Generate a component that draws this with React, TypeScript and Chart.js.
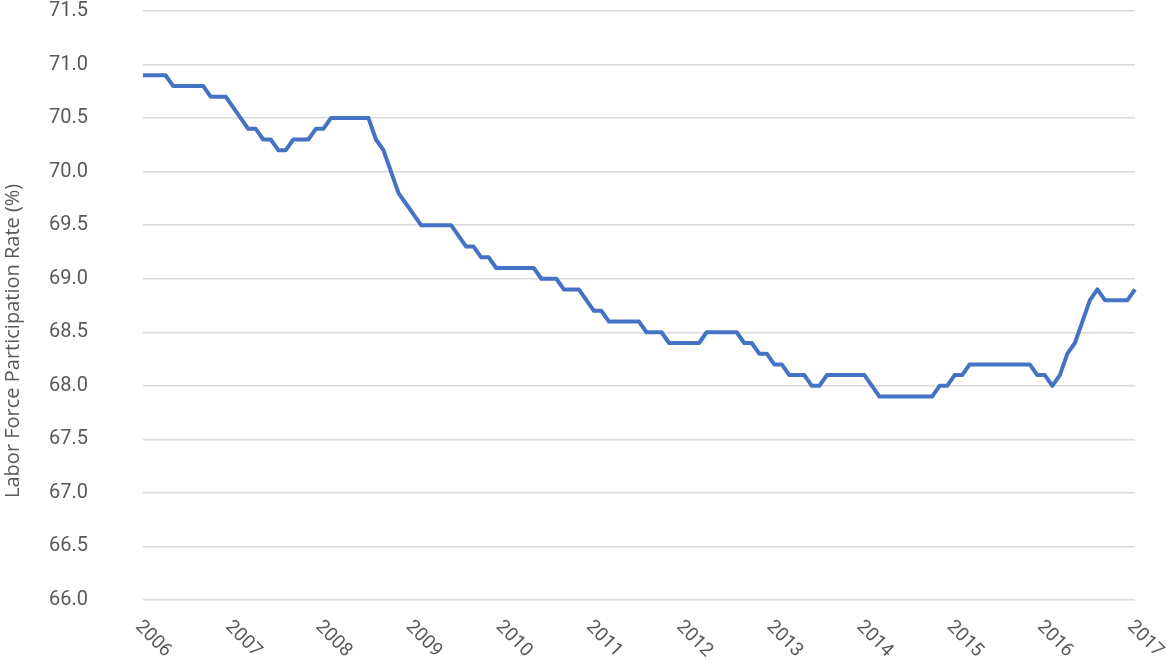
import React, { useEffect, useRef } from "react";
import { Chart, registerables } from "chart.js";

Chart.register(...registerables);

// year tick labels shown under the axis
const yearLabels = [
  "2006", "2007", "2008", "2009", "2010", "2011",
  "2012", "2013", "2014", "2015", "2016", "2017",
];

// one category per month, Jan 2006 .. Jan 2017
const monthLabels: string[] = [];
yearLabels.forEach((year, i) => {
  const months = i === yearLabels.length - 1 ? 1 : 12;
  for (let m = 1; m <= months; m++) {
    monthLabels.push(`${year}-${String(m).padStart(2, "0")}`);
  }
});

// labor force participation rate (%), monthly
const participationRate = [
  70.9, 70.9, 70.9, 70.9, 70.8, 70.8, 70.8, 70.8, 70.8, 70.7, 70.7, 70.7, // 2006
  70.6, 70.5, 70.4, 70.4, 70.3, 70.3, 70.2, 70.2, 70.3, 70.3, 70.3, 70.4, // 2007
  70.4, 70.5, 70.5, 70.5, 70.5, 70.5, 70.5, 70.3, 70.2, 70.0, 69.8, 69.7, // 2008
  69.6, 69.5, 69.5, 69.5, 69.5, 69.5, 69.4, 69.3, 69.3, 69.2, 69.2, 69.1, // 2009
  69.1, 69.1, 69.1, 69.1, 69.1, 69.0, 69.0, 69.0, 68.9, 68.9, 68.9, 68.8, // 2010
  68.7, 68.7, 68.6, 68.6, 68.6, 68.6, 68.6, 68.5, 68.5, 68.5, 68.4, 68.4, // 2011
  68.4, 68.4, 68.4, 68.5, 68.5, 68.5, 68.5, 68.5, 68.4, 68.4, 68.3, 68.3, // 2012
  68.2, 68.2, 68.1, 68.1, 68.1, 68.0, 68.0, 68.1, 68.1, 68.1, 68.1, 68.1, // 2013
  68.1, 68.0, 67.9, 67.9, 67.9, 67.9, 67.9, 67.9, 67.9, 67.9, 68.0, 68.0, // 2014
  68.1, 68.1, 68.2, 68.2, 68.2, 68.2, 68.2, 68.2, 68.2, 68.2, 68.2, 68.1, // 2015
  68.1, 68.0, 68.1, 68.3, 68.4, 68.6, 68.8, 68.9, 68.8, 68.8, 68.8, 68.8, // 2016
  68.9, // 2017
];

const yMin = 66;
const yMax = 71.5;
const yStep = 0.5;

const yTitle = "Labor Force Participation Rate (%)";
const textGray = "#595959";

// year labels rotated 45deg clockwise below the plot, plus the y title
const axisTextPlugin = {
  id: "axisText",
  afterDraw(chart: Chart) {
    const { ctx, chartArea } = chart;
    const x = chart.scales.x;
    ctx.save();
    ctx.font = "19px Roboto";
    ctx.fillStyle = textGray;
    ctx.textAlign = "left";
    ctx.textBaseline = "middle";
    yearLabels.forEach((label) => {
      const idx = monthLabels.indexOf(`${label}-01`);
      const px = x.getPixelForValue(idx);
      ctx.save();
      ctx.translate(px - 5, chartArea.bottom + 24);
      ctx.rotate(Math.PI / 4);
      ctx.fillText(label, 0, 0);
      ctx.restore();
    });

    // title sits a bit below the plot's middle, as in the source
    ctx.font = "20px 'Open Sans'";
    ctx.textAlign = "center";
    ctx.translate(13, chartArea.top + (chartArea.bottom - chartArea.top) * 0.56);
    ctx.rotate(-Math.PI / 2);
    ctx.fillText(yTitle, 0, 0);
    ctx.restore();
  },
};

const LaborForceChart: React.FC = () => {
  const chartRef = useRef<HTMLCanvasElement | null>(null);

  useEffect(() => {
    if (!chartRef.current) return;
    const ctx = chartRef.current.getContext("2d");
    if (!ctx) return;

    const chartInstance = new Chart(ctx, {
      type: "line",
      data: {
        labels: monthLabels,
        datasets: [
          {
            label: yTitle,
            data: participationRate,
            borderColor: "#4472C4",
            borderWidth: 4,
            borderJoinStyle: "round",
            pointRadius: 0,
            fill: false,
            tension: 0,
          },
        ],
      },
      options: {
        responsive: true,
        maintainAspectRatio: false,
        animation: false,
        layout: {
          padding: { top: 11, right: 33, bottom: 60, left: 0 },
        },
        plugins: {
          legend: { display: false },
          tooltip: { enabled: false },
        },
        scales: {
          x: {
            type: "category",
            display: false,
            offset: false,
          },
          y: {
            min: yMin,
            max: yMax,
            border: { display: false },
            grid: {
              color: "#d9d9d9",
              lineWidth: 1.5,
              drawTicks: false,
            },
            ticks: {
              stepSize: yStep,
              padding: 55,
              color: textGray,
              font: { size: 20, family: "Roboto" },
              callback: (value) => Number(value).toFixed(1),
            },
            afterFit: (scale) => {
              scale.width = 143;
              scale.paddingTop = 0;
              scale.paddingBottom = 0;
            },
          },
        },
      },
      plugins: [axisTextPlugin],
    });

    return () => {
      chartInstance.destroy();
    };
  }, []);

  return (
    <div style={{ position: "absolute", left: 0, top: 0, width: 1168, height: 660 }}>
      <canvas ref={chartRef} />
    </div>
  );
};

export default function App() {
  return <LaborForceChart />;
}
